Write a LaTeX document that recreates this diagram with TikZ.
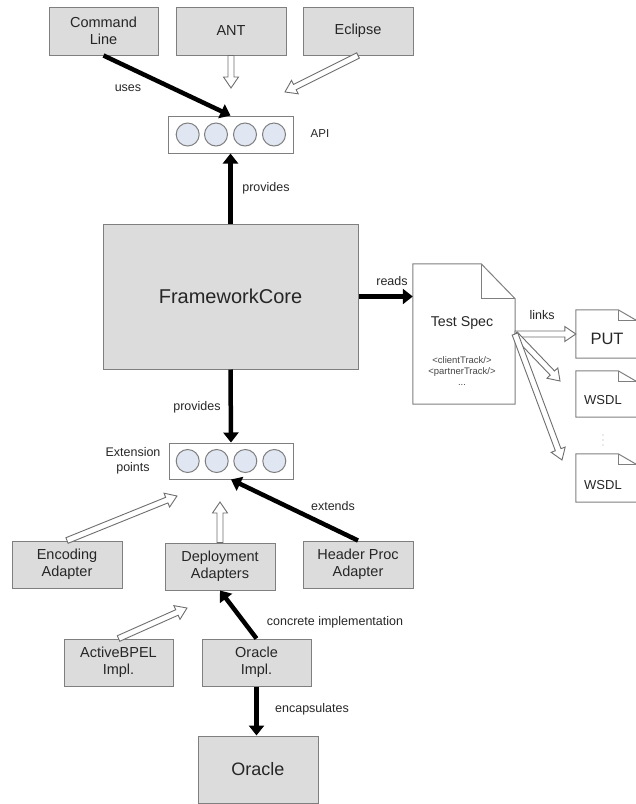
\documentclass[tikz,border=0pt]{standalone}
\usepackage{fontspec}
\setmainfont{Liberation Sans}
\usetikzlibrary{calc,arrows.meta}
\definecolor{boxfill}{HTML}{DCDCDC}
\definecolor{boxline}{HTML}{7F7F7F}
\definecolor{circfill}{HTML}{E1E7F2}
\definecolor{txt}{HTML}{262626}
\definecolor{hline}{HTML}{6E6E6E}
\newcommand\hollowarr[2]{%
  \draw[hollowstyle]
    ($(#1)!3pt!90:(#2)$) --
    ($(#2)!11pt!(#1)!3pt!90:(#2)$) --
    ($(#2)!11pt!(#1)!7.5pt!90:(#2)$) --
    (#2) --
    ($(#2)!11pt!(#1)!7.5pt!-90:(#2)$) --
    ($(#2)!11pt!(#1)!3pt!-90:(#2)$) --
    ($(#1)!3pt!-90:(#2)$) -- cycle;}
\newcommand\docfold[1]{%
  \draw[docline] (#1.north west) -- ($(#1.north east)+(-19,0)$) -- ($(#1.north east)+(0,11)$)
     -- (#1.south east) -- (#1.south west) -- cycle;
  \draw[docline] ($(#1.north east)+(-19,0)$) -- ($(#1.north east)+(-19,11)$) -- ($(#1.north east)+(0,11)$);}
\begin{document}
\begin{tikzpicture}[x=1pt,y=-1pt,
  box/.style={draw=boxline, fill=boxfill, line width=1pt, inner sep=0pt, align=center,
     text=txt, font=\fontsize{14.5}{17}\selectfont},
  ifbox/.style={draw=boxline, fill=white, line width=1pt, inner sep=0pt, minimum width=125pt, minimum height=37pt},
  circ/.style={circle, draw=boxline, fill=circfill, line width=1pt, minimum size=23pt, inner sep=0pt},
  lbl/.style={text=txt, font=\fontsize{12.5}{14.5}\selectfont, inner sep=0pt, align=center},
  bigarrow/.style={line width=4.5pt, black, -{Triangle[length=10pt,width=15pt]}},
  hollowstyle/.style={draw=hline, fill=white, line width=0.9pt, line join=miter},
  docline/.style={draw=boxline, line width=1pt},
  dotmark/.style={circle, fill=boxline!70, inner sep=0pt, minimum size=1.3pt},
]
\useasboundingbox (0,0) rectangle (636,804);

% top boxes
\node[box, minimum width=109pt, minimum height=48pt] (cmd) at (103.5,31) {Command\\Line};
\node[box, minimum width=110pt, minimum height=48pt] (ant) at (231,31) {ANT};
\node[box, minimum width=110pt, minimum height=48pt] (ecl) at (358,31) {Eclipse};

% API
\node[ifbox] (api) at (230.5,134.5) {};
\foreach \i/\dx in {1/-42.8,2/-14.5,3/14.5,4/43.5}
  \node[circ] (api\i) at ($(api)+(\dx,0)$) {};
\node[lbl, font=\fontsize{11.5}{13}\selectfont] (lapi) at (320,134) {API};

% framework core
\node[box, minimum width=255pt, minimum height=145pt, font=\fontsize{20}{23}\selectfont] (fc) at (230.5,296.5) {FrameworkCore};

% Test spec document
\node[inner sep=0pt, minimum width=102pt, minimum height=140pt] (ts) at (464,334) {};
\draw[docline, fill=white] (ts.north west) -- ($(ts.north east)+(-34,0)$) -- ($(ts.north east)+(0,35)$)
   -- (ts.south east) -- (ts.south west) -- cycle;
\draw[docline] ($(ts.north east)+(-34,0)$) -- ($(ts.north east)+(-34,35)$) -- ($(ts.north east)+(0,35)$);
\node[text=txt, font=\fontsize{14.2}{16}\selectfont, inner sep=0pt] (tstitle) at (462,323) {Test Spec};
\node[text=txt!85, font=\fontsize{9.5}{11}\selectfont, inner sep=0pt, align=center] (tscode) at (462,367)
  {<clientTrack/>\\<partnerTrack/>};
\node[text=txt!85, font=\fontsize{9.5}{11}\selectfont, inner sep=0pt] (tsdots) at (462,385) {...};

% PUT and WSDL documents
\node[inner sep=0pt, minimum width=61pt, minimum height=48pt] (put) at (606.5,334) {};
\docfold{put}
\node[text=txt, font=\fontsize{16.5}{18}\selectfont, inner sep=0pt] (putt) at (607,339) {PUT};
\node[inner sep=0pt, minimum width=61pt, minimum height=46pt] (wsdla) at (606.5,394) {};
\docfold{wsdla}
\node[text=txt, font=\fontsize{13}{15}\selectfont, inner sep=0pt] (wsdlat) at (603,400) {WSDL};
\foreach \j/\yy in {1/435,2/440,3/445}
  \node[dotmark] (vd\j) at (603,\yy) {};
\node[inner sep=0pt, minimum width=61pt, minimum height=48pt] (wsdlb) at (606.5,478) {};
\docfold{wsdlb}
\node[text=txt, font=\fontsize{13}{15}\selectfont, inner sep=0pt] (wsdlbt) at (603,485) {WSDL};

% extension points
\node[ifbox, minimum width=124pt, minimum height=36pt] (ext) at (231,461) {};
\foreach \i/\dx in {1/-43.3,2/-14.3,3/14.3,4/43.3}
  \node[circ] (ext\i) at ($(ext)+(\dx,0)$) {};
\node[lbl] (lext) at (133,461) {Extension\\points};

% adapters
\node[box, minimum width=110pt, minimum height=47pt] (enc) at (67,564.5) {Encoding\\Adapter};
\node[box, minimum width=110pt, minimum height=47pt] (dep) at (220,566.5) {Deployment\\Adapters};
\node[box, minimum width=110pt, minimum height=47pt] (hp) at (358,564.5) {Header Proc\\Adapter};
\node[box, minimum width=109pt, minimum height=47pt] (abp) at (118.5,662.5) {ActiveBPEL\\Impl.};
\node[box, minimum width=109pt, minimum height=47pt] (oi) at (256.5,662.5) {Oracle\\Impl.};
\node[box, minimum width=120pt, minimum height=67pt, font=\fontsize{18}{21}\selectfont] (ora) at (258,769.5) {Oracle};

% free ends
\coordinate (antEnd) at (231,88);
\coordinate (eclEnd) at (285,92);
\coordinate (tsOut) at (515,334);
\coordinate (lnkA) at (560,381);
\coordinate (lnkB) at (562,460);
\coordinate (encEnd) at (177,496);
\coordinate (depEnd) at (220,502);
\coordinate (abpEnd) at (187,608);

% black arrows
\draw[bigarrow] (cmd.south) -- (api.north);
\draw[bigarrow] (fc.north) -- (api.south);
\draw[bigarrow] (fc.east) -- (ts.west |- fc.east);
\draw[bigarrow] (fc.south) -- (ext.north);
\draw[bigarrow] (hp.north) -- (ext.south);
\draw[bigarrow] (oi.north) -- (dep.south);
\draw[bigarrow] (oi.south) -- (oi.south |- ora.north);

% hollow arrows
\hollowarr{ant.south}{antEnd}
\hollowarr{ecl.south}{eclEnd}
\hollowarr{tsOut}{put.west}
\hollowarr{tsOut}{lnkA}
\hollowarr{tsOut}{lnkB}
\hollowarr{enc.north}{encEnd}
\hollowarr{dep.north}{depEnd}
\hollowarr{abp.north}{abpEnd}

% labels
\node[lbl] (luses) at (128,88) {uses};
\node[lbl] (lprov1) at (266,188) {provides};
\node[lbl] (lreads) at (392,281) {reads};
\node[lbl] (llinks) at (542,315) {links};
\node[lbl] (lprov2) at (197,407) {provides};
\node[lbl] (lextends) at (333,506) {extends};
\node[lbl] (lconcrete) at (335,622) {concrete implementation};
\node[lbl] (lencaps) at (312,709) {encapsulates};
\end{tikzpicture}
\end{document}
